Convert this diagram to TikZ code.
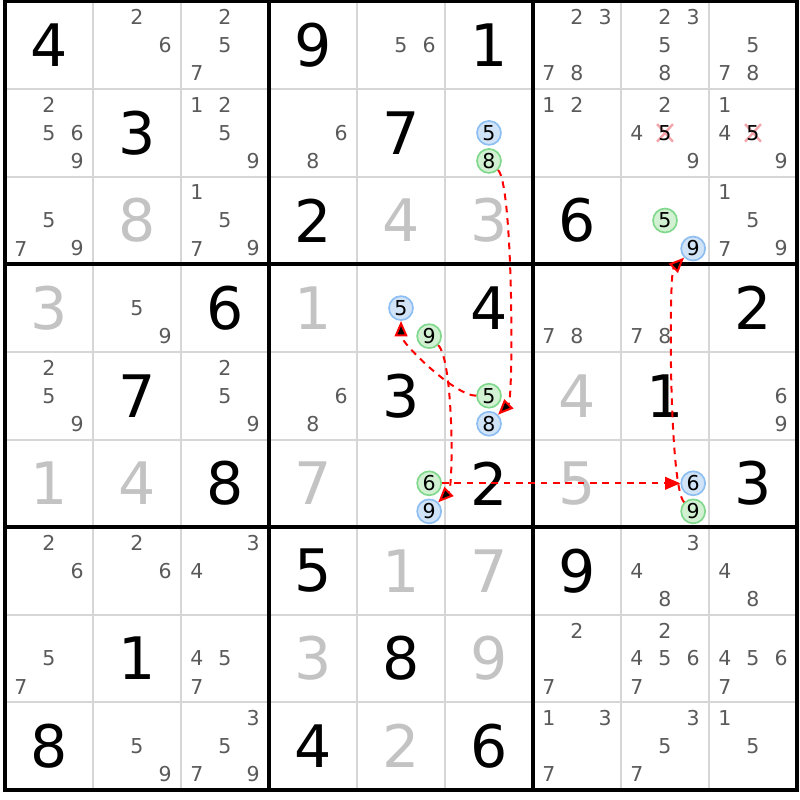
\documentclass[tikz,border=0pt]{standalone}
\usepackage{fontspec}
\setmainfont{DejaVu Sans}
\usetikzlibrary{arrows.meta,positioning}
\definecolor{candgray}{HTML}{5A5A5A}
\definecolor{solvedgray}{HTML}{C3C3C3}
\definecolor{gridgray}{HTML}{D6D6D6}
\definecolor{onfill}{HTML}{D2F1D2}
\definecolor{ondraw}{HTML}{80D88C}
\definecolor{offfill}{HTML}{D0E3F7}
\definecolor{offdraw}{HTML}{8DBEF2}
\definecolor{crossred}{HTML}{F4A3A8}
\tikzset{
    given/.style={
        font=\fontsize{50}{50}\selectfont,
        text=black,
        inner sep=0pt,
    },
    solved/.style={
        given,
        text=solvedgray,
    },
    cand/.style={
        font=\fontsize{17.5}{17.5}\selectfont,
        text=candgray,
        inner sep=0pt,
    },
    oncand/.style={
        circle,
        draw=ondraw,
        fill=onfill,
        line width=0.5mm,
        minimum size=7.2mm,
        inner sep=0pt,
        font=\fontsize{17.5}{17.5}\selectfont,
    },
    offcand/.style={
        oncand,
        draw=offdraw,
        fill=offfill,
    },
    crossout/.style={
        draw=crossred,
        line width=0.7mm,
    },
    link/.style={
        draw=red,
        line width=0.6mm,
        dash pattern=on 2mm off 1.7mm,
        -{Triangle[length=4.6mm,width=3.8mm]},
    },
}

\begin{document}
\begin{tikzpicture}[x=26.4mm,y=-26.28mm]
    \useasboundingbox (-0.0568,-0.0171) rectangle (9.034,9.115);
    % grid
    \foreach \i in {1,2,4,5,7,8} {
        \draw[gridgray,line width=0.6mm] (\i,0) -- (\i,9);
        \draw[gridgray,line width=0.6mm] (0,\i) -- (9,\i);
    }
    \foreach \i in {0,3,6,9} {
        \draw[black,line width=1.1mm] (\i,-0.02) -- (\i,9.02);
        \draw[black,line width=1.1mm] (-0.02,\i) -- (9.02,\i);
    }
    % givens
    \foreach \r/\c/\v in {0/0/4,0/3/9,0/5/1,1/1/3,1/4/7,2/3/2,2/6/6,3/2/6,3/5/4,3/8/2,
        4/1/7,4/4/3,4/7/1,5/2/8,5/5/2,5/8/3,6/3/5,6/6/9,7/1/1,7/4/8,8/0/8,8/3/4,8/5/6}
        \node[given] (g\r\c) at (\c+0.5,\r+0.5) {\v};
    % solved
    \foreach \r/\c/\v in {2/1/8,2/4/4,2/5/3,3/0/3,3/3/1,4/6/4,5/0/1,5/1/4,5/3/7,5/6/5,
        6/4/1,6/5/7,7/3/3,7/5/9,8/4/2}
        \node[solved] (s\r\c) at (\c+0.5,\r+0.5) {\v};
    % candidates
    \foreach \r/\c/\ds in {0/1/{2,6},0/2/{2,5,7},0/4/{5,6},0/6/{2,3,7,8},0/7/{2,3,5,8},0/8/{5,7,8},
        1/0/{2,5,6,9},1/2/{1,2,5,9},1/3/{6,8},1/6/{1,2},1/7/{2,4,9},1/8/{1,4,9},
        2/0/{5,7,9},2/2/{1,5,7,9},2/8/{1,5,7,9},
        3/1/{5,9},3/6/{7,8},3/7/{7,8},
        4/0/{2,5,9},4/2/{2,5,9},4/3/{6,8},4/8/{6,9},
        6/0/{2,6},6/1/{2,6},6/2/{3,4},6/7/{3,4,8},6/8/{4,8},
        7/0/{5,7},7/2/{4,5,7},7/6/{2,7},7/7/{2,4,5,6,7},7/8/{4,5,6,7},
        8/1/{5,9},8/2/{3,5,7,9},8/6/{1,3,7},8/7/{3,5,7},8/8/{1,5}}
        \foreach \d in \ds
            \node[cand] (n\r\c\d) at ({\c+0.5+0.32*(mod(\d-1,3)-1)},{\r+0.5+0.32*(floor((\d-1)/3)-1)}) {\d};
    % eliminated 5s
    \foreach \c in {7,8} {
        \draw[crossout] (\c+0.41,1.4) -- (\c+0.59,1.6);
        \draw[crossout] (\c+0.41,1.6) -- (\c+0.59,1.4);
        \node[cand,text=black] (n1\c5) at (\c+0.5,1.5) {5};
    }
    % chain candidates
    \foreach \r/\c/\d in {1/5/8,2/7/5,3/4/9,4/5/5,5/4/6,5/7/9}
        \node[oncand] (n\r\c\d) at ({\c+0.5+0.32*(mod(\d-1,3)-1)},{\r+0.5+0.32*(floor((\d-1)/3)-1)}) {\d};
    \foreach \r/\c/\d in {1/5/5,2/7/9,3/4/5,4/5/8,5/4/9,5/7/6}
        \node[offcand] (n\r\c\d) at ({\c+0.5+0.32*(mod(\d-1,3)-1)},{\r+0.5+0.32*(floor((\d-1)/3)-1)}) {\d};
    % links
    \path[link] (n158) edge [bend left=45,distance=6.5mm] (n458);
    \path[link] (n455) edge [bend left=45,distance=6.5mm] (n345);
    \path[link] (n349) edge [bend left=45,distance=6.5mm] (n549);
    \draw[link] (n546) -- (n576);
    \path[link] (n579) edge [bend left=45,distance=6.5mm] (n279);
\end{tikzpicture}
\end{document}
